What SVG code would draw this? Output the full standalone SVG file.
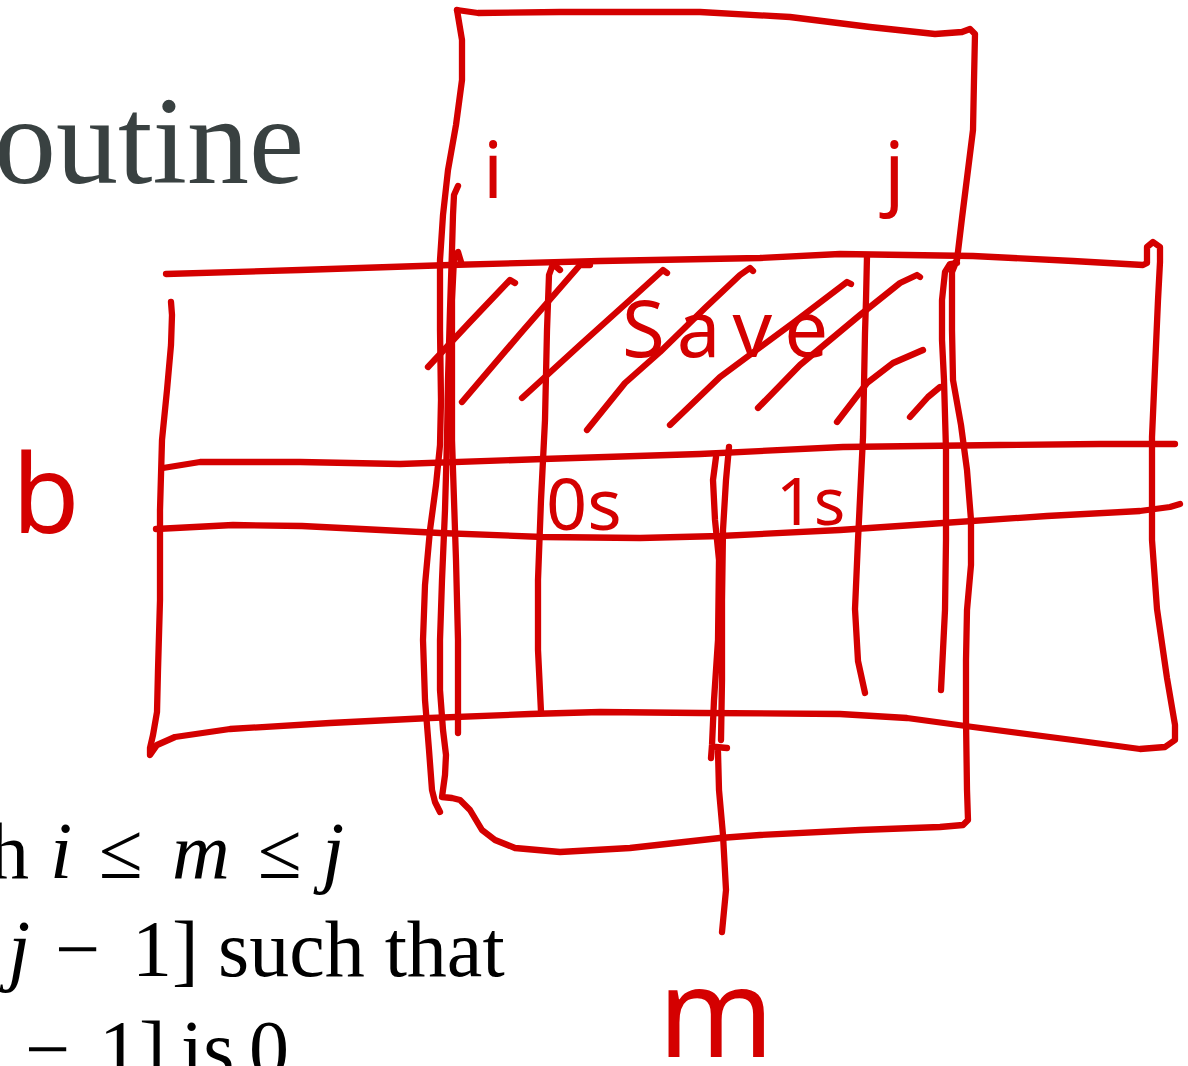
<svg xmlns="http://www.w3.org/2000/svg" width="1188" height="1066" viewBox="0 0 1188 1066">
<style>
.ink{fill:none;stroke:#d40000;stroke-width:6.3;stroke-linecap:round;stroke-linejoin:round}
.hand{font-family:"Noto Sans","DejaVu Sans",sans-serif;fill:#d40000}
.slide{font-family:"Liberation Serif","Times New Roman",serif;fill:#000;font-size:80px}
.it{font-style:italic}
.title{font-family:"Liberation Serif","Times New Roman",serif;fill:#394141;font-size:124px}
</style>
<rect width="1188" height="1066" fill="#fff"/>
<g id="slide-text">
<text class="title" x="304" y="183" text-anchor="end">outine</text>
<text class="slide" x="-11" y="878">h</text>
<text class="slide it" x="50" y="878">i</text>
<text class="slide" x="99" y="878">≤</text>
<text class="slide it" x="172" y="878">m</text>
<text class="slide" x="258" y="878">≤</text>
<text class="slide it" x="322" y="878">j</text>
<text class="slide it" x="8" y="976">j</text>
<text class="slide" x="55" y="976">−</text>
<text class="slide" x="132" y="976">1]</text>
<text class="slide" x="218" y="976">such that</text>
<text class="slide" x="25" y="1076">−</text>
<text class="slide" x="99" y="1076">1]</text>
<text class="slide" x="181" y="1076">is</text>
<text class="slide" x="249" y="1076">0</text>
</g>
<g id="column-box">
<path class="ink" d="M457,10 L478,13 L560,12 L700,12 L790,17 L870,27 L935,34 L962,32 L970,29 L975,34 L974,80 L973,130 L967,178 L962,218 L957,260 L953,266"/>
<path class="ink" d="M956,262 L952,272 L952,330 L953,380 L961,425 L967,470 L971,520 L971,565 L967,610 L966,660 L966,720 L967,790 L968,820 L963,825 L940,827 L860,830 L760,835 L720,838 L630,848 L560,852 L515,848 L495,840 L482,830 L470,810 L460,800 L452,798 L442,797 L445,775 L446,755 L443,730 L440,690 L440,640 L442,580 L445,510 L447,440 L448,380 L450,310 L452,250 L453,215 L454,195 L458,186"/>
<path class="ink" d="M457,10 L462,40 L462,80 L456,125 L448,170 L443,215 L440,260 L440,330 L441,400 L440,445 L436,485 L430,530 L425,585 L423,640 L425,700 L429,750 L432,790 L435,802 L440,812"/>
<path class="ink" d="M461,262 L458,252 L454,258 L452,300 L452,380 L452,440 L454,500 L456,560 L458,640 L458,733"/>
<path class="ink" d="M957,263 L950,264 L945,272 L942,300 L942,340 L944,380 L946,450 L946,540 L945,610 L943,650 L941,690"/>
</g>
<g id="row-box">
<path class="ink" d="M171,302 L172,315 L171,345 L167,390 L162,440 L160,510 L160,600 L158,670 L157,712 L153,735 L150,748 L150,755 L157,745 L175,737 L230,729 L330,723 L430,718 L530,714 L600,712 L700,713 L840,714 L907,718 L973,727 L1073,740 L1140,749 L1165,747 L1175,740 L1175,725 L1167,678 L1157,609 L1152,540 L1152,437 L1155,368 L1158,300 L1160,262 L1160,247 L1153,242 L1147,247 L1147,263 L1143,265 L1073,261 L973,256 L840,254 L760,258 L600,261 L450,265 L300,270 L166,274"/>
<path class="ink" d="M163,468 L200,462 L300,462 L400,464 L543,459 L700,454 L843,447 L1000,445 L1100,444 L1175,444"/>
<path class="ink" d="M156,529 L233,525 L302,526 L440,533 L543,537 L640,538 L720,536 L840,530 L943,523 L1047,516 L1140,511 L1170,507 L1180,504"/>
</g>
<g id="columns">
<path class="ink" d="M560,270 L553,264 L549,275 L547,330 L545,420 L541,500 L538,580 L538,650 L541,712"/>
<path class="ink" d="M867,256 L866,300 L865,333 L863,437 L858,540 L855,609 L858,661 L865,693"/>
<path class="ink" d="M716,457 L713,480 L715,520 L719,560 L718,640 L714,700 L712,745 L711,758"/>
<path class="ink" d="M729,447 L726,480 L723,530 L722,600 L722,680 L721,740"/>
<path class="ink" d="M716,747 L727,748"/>
<path class="ink" d="M718,752 L719,790 L723,835 L726,890 L722,932"/>
</g>
<g id="hatching">
<path class="ink" d="M428,367 L470,322 L510,280 L515,283"/>
<path class="ink" d="M462,402 L520,334 L580,265 L590,265"/>
<path class="ink" d="M522,398 L580,345 L630,300 L663,270 L667,273"/>
<path class="ink" d="M587,430 L625,383 L660,352 L705,308 L740,275 L750,268 L753,271"/>
<path class="ink" d="M670,425 L720,377 L793,323 L847,282 L851,284"/>
<path class="ink" d="M758,408 L800,365 L860,315 L900,283 L917,275 L920,277"/>
<path class="ink" d="M837,422 L867,383 L893,363 L923,350"/>
<path class="ink" d="M910,417 L928,397 L940,387"/>
</g>
<g id="labels">
<text class="hand" x="483" y="198" font-size="78">i</text>
<text class="hand" x="884" y="200" font-size="80">j</text>
<text class="hand" x="12" y="533" font-size="110">b</text>
<text class="hand" x="658" y="1057" font-size="124">m</text>
<text class="hand" x="546" y="530" font-size="72">0s</text>
<text class="hand" x="776" y="525" font-size="66">1s</text>
<text class="hand" x="622" y="357" font-size="78" letter-spacing="12">Save</text>
</g>
</svg>
